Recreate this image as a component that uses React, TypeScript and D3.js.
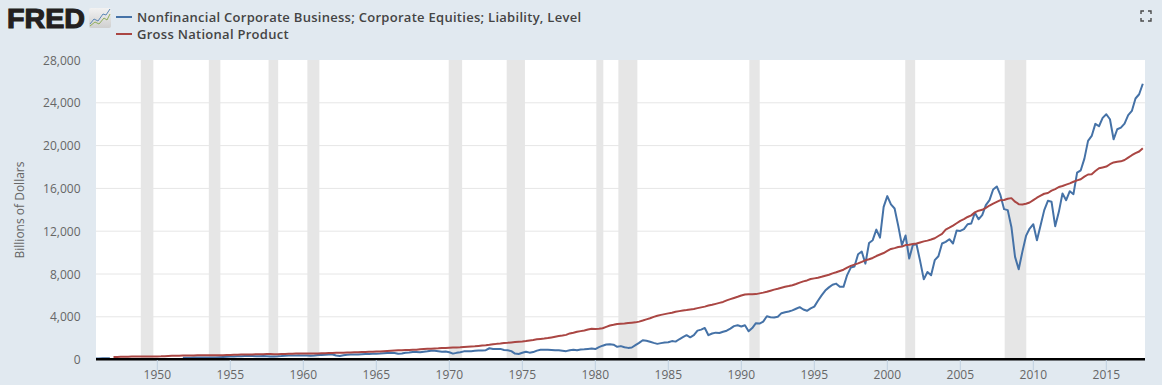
import React from "react";
import * as d3 from "d3";

const legendLabels = ["Nonfinancial Corporate Business; Corporate Equities; Liability, Level", "Gross National Product"];
const yTicks = [0, 4000, 8000, 12000, 16000, 20000, 24000, 28000];
const xTicks = [1950, 1955, 1960, 1965, 1970, 1975, 1980, 1985, 1990, 1995, 2000, 2005, 2010, 2015];

const recessions: [number, number][] = [
  [1948.87, 1949.73], [1953.53, 1954.32], [1957.62, 1958.28], [1960.28, 1961.1],
  [1969.96, 1970.88], [1973.93, 1975.18], [1980.07, 1980.55], [1981.58, 1982.88],
  [1990.55, 1991.26], [2001.23, 2001.91], [2008.04, 2009.52],
];

const blueEarlyStart = 1945.75;
const blueEarly = [110, 112, 115, 118, 120];

const blueStart = 1951.75;
const blue = [
  170,
  175, 180, 185, 190, 195, 190, 185, 190, 205, 220, 240, 265,
  285, 300, 310, 315, 330, 335, 330, 320, 315, 325, 305, 285,
  295, 310, 335, 370, 380, 390, 390, 395, 375, 380, 365, 390,
  425, 435, 455, 475, 470, 380, 340, 400, 450, 470, 475, 485,
  510, 520, 535, 540, 555, 560, 590, 620,
  640, 610, 540, 580, 640, 660, 700, 710, 680, 740, 780, 830,
  820, 780, 740, 760, 690, 560, 630, 690, 770, 790, 790, 820,
  850, 860, 880, 1060, 1000, 980, 1000, 900, 870, 790, 560, 530,
  640, 740, 650, 700, 840, 920, 930, 930, 900, 870, 870, 830,
  790, 880, 920, 870, 950, 960, 1000, 1030, 980, 1160, 1300, 1410,
  1430, 1390, 1200, 1260, 1150, 1095, 1130, 1350, 1560, 1810, 1760, 1670,
  1560, 1470, 1540, 1600, 1620, 1730, 1680, 1900, 2100, 2280, 2080, 2280,
  2710, 2800, 2960, 2280, 2440, 2520, 2480, 2600, 2700, 2900, 3130, 3210,
  3100, 3210, 2650, 2950, 3400, 3370, 3550, 4050, 3960, 3930, 4000, 4340,
  4430, 4500, 4600, 4750, 4900, 4680, 4560, 4780, 4950, 5500, 6000, 6450,
  6750, 7000, 7100, 6800, 6800, 7900, 8600, 8700, 9850, 10100, 8970, 10900,
  11160, 12150, 11400, 14280, 15280, 14500, 14120, 12500, 10700, 11600, 9440, 10700,
  10780, 9200, 7500, 8190, 7880, 9290, 9660, 10850, 11000, 11250, 10850, 12060,
  12030, 12190, 12650, 12720, 13720, 13120, 13500, 14430, 14900, 15900, 16180, 15370,
  14060, 13970, 12400, 9600, 8440, 10070, 11560, 12250, 12650, 11160, 12560, 13970,
  14840, 14750, 12470, 13810, 15530, 14900, 15740, 15460, 17470, 17690, 18780, 20440,
  20900, 22030, 21810, 22590, 22930, 22460, 20590, 21530, 21680, 22060, 22840, 23240,
  24400, 24800, 25780,
];

const redStart = 1947;
const red = [
  250, 253, 259, 270, 277, 284, 292, 293, 287, 283, 284, 282,
  292, 302, 322, 336, 353, 362, 370, 376, 379, 380, 386, 403,
  408, 411, 411, 406, 406, 408, 413, 424, 440, 449, 460, 468,
  471, 477, 484, 494, 503, 507, 516, 514, 502, 507, 521, 535,
  545, 558, 561, 568, 577, 576, 579, 573, 578, 587, 598, 612,
  624, 633, 641, 646, 654, 661, 676, 684, 702, 711, 725, 730,
  753, 768, 787, 811, 838, 848, 863, 878, 888, 895, 913, 930,
  960, 987, 1004, 1021, 1047, 1062, 1085, 1092, 1105, 1120, 1140, 1145,
  1180, 1205, 1225, 1240, 1278, 1312, 1340, 1380, 1428, 1470, 1500, 1550,
  1570, 1605, 1640, 1675, 1695, 1730, 1790, 1835, 1895, 1930, 1965, 2015,
  2075, 2140, 2205, 2245, 2310, 2445, 2510, 2595, 2660, 2725, 2810, 2875,
  2870, 2890, 2935, 3060, 3190, 3250, 3330, 3360, 3380, 3420, 3450, 3480,
  3550, 3650, 3760, 3860, 3990, 4100, 4180, 4250, 4320, 4385, 4470, 4530,
  4590, 4630, 4690, 4730, 4810, 4880, 4950, 5050, 5120, 5210, 5300, 5390,
  5530, 5650, 5760, 5870, 5990, 6080, 6100, 6110, 6120, 6190, 6260, 6340,
  6440, 6540, 6620, 6720, 6800, 6870, 6950, 7060, 7190, 7310, 7400, 7530,
  7590, 7650, 7740, 7840, 7930, 8060, 8160, 8280, 8400, 8600, 8760, 8880,
  8990, 9130, 9280, 9380, 9500, 9680, 9820, 9960, 10150, 10340, 10420, 10520,
  10560, 10700, 10730, 10800, 10850, 10950, 11050, 11120, 11220, 11340, 11550, 11750,
  12150, 12330, 12520, 12740, 12970, 13130, 13330, 13480, 13760, 13920, 14000, 14180,
  14400, 14580, 14740, 14900, 14920, 15030, 15090, 14760, 14530, 14500, 14560, 14680,
  14900, 15130, 15320, 15500, 15570, 15790, 15930, 16130, 16220, 16350, 16470, 16620,
  16750, 16860, 17100, 17300, 17330, 17620, 17880, 17960, 18040, 18260, 18430, 18490,
  18530, 18650, 18880, 19100, 19290, 19450, 19760,
];

const W = 1162, H = 385;
const L = 96, R = 1145, T = 60, B = 359.6;
const x = d3.scaleLinear().domain([1950 + (L - 157.3) / 14.6, 1950 + (R - 157.3) / 14.6]).range([L, R]);
const y = d3.scaleLinear().domain([0, 28000]).range([B, T]);
const quarterly = (start: number, vals: number[]) => vals.map((v, i) => [start + i / 4, v] as [number, number]);
const line = d3.line<[number, number]>().x((d) => x(d[0])).y((d) => y(d[1]));
const font = "'Open Sans', sans-serif";
const fmt = d3.format(",");
const BLUE = "#4572a7", RED = "#aa4643";

export default function App() {
  return (
    <svg width={W} height={H} style={{ position: "absolute", left: 0, top: 0, background: "#e1e9f0" }} fontFamily={font}>
      <defs>
        <clipPath id="plot"><rect x={L} y={T} width={R - L} height={B - T + 1} /></clipPath>
        <linearGradient id="ico" x1="0" y1="0" x2="0" y2="1">
          <stop offset="0" stopColor="#f2f2f2" /><stop offset="1" stopColor="#cfcfcf" />
        </linearGradient>
      </defs>
      <text x={7} y={27.5} fontFamily="'Liberation Sans', sans-serif" fontWeight={700} fontSize={27} fill="#231f20" stroke="#231f20" strokeWidth={1.1} textLength={78} lengthAdjust="spacingAndGlyphs">FRED</text>
      <rect x={89} y={8} width={22} height={20} rx={2} fill="url(#ico)" />
      <path d="M90 24 L94 19 L98 21 L103 14 L106 15 L110 9" fill="none" stroke="#5b87b5" strokeWidth={1} />
      <path d="M90 26 L95 22 L99 24 L104 18 L107 20 L110 14" fill="none" stroke="#8fae5a" strokeWidth={1} />

      {legendLabels.map((t, i) => (
        <g key={t}>
          <line x1={116} x2={132} y1={17 + i * 17} y2={17 + i * 17} stroke={i ? RED : BLUE} strokeWidth={2} />
          <text x={137} y={21.5 + i * 17} fontSize={13} fontWeight={600} fill="#444" letterSpacing={0.28}>{t}</text>
        </g>
      ))}

      <g stroke="#4a4a4a" strokeWidth={1.4} fill="none">
        <path d="M1141 14 V11 H1144 M1148 11 H1151 V14 M1151 18 V21 H1148 M1144 21 H1141 V18" />
      </g>

      <rect x={L} y={T} width={R - L} height={B - T} fill="#fff" />
      {recessions.map(([a, b]) => (
        <rect key={a} x={x(a)} y={T} width={x(b) - x(a)} height={B - T} fill="#e6e6e6" />
      ))}
      {yTicks.map((t) => (
        <g key={t}>
          {t > 0 && t < 28000 && <line x1={L} x2={R} y1={y(t)} y2={y(t)} stroke="#e6e6e6" strokeWidth={1} />}
          <text x={80.5} y={y(t) + 4.5} textAnchor="end" fontSize={12} fill="#666">{fmt(t)}</text>
        </g>
      ))}
      <g clipPath="url(#plot)" fill="none" strokeWidth={2} strokeLinejoin="round">
        <path d={line(quarterly(blueEarlyStart, blueEarly)) ?? ""} stroke={BLUE} />
        <path d={line(quarterly(blueStart, blue)) ?? ""} stroke={BLUE} />
        <path d={line(quarterly(redStart, red)) ?? ""} stroke={RED} />
      </g>
      <line x1={L} x2={R} y1={359.3} y2={359.3} stroke="#000" strokeWidth={2.4} />
      {xTicks.map((t) => (
        <g key={t}>
          <line x1={x(t)} x2={x(t)} y1={360} y2={370} stroke="#c0d0e0" strokeWidth={1} />
          <text x={x(t)} y={379} textAnchor="middle" fontSize={12} fill="#666">{t}</text>
        </g>
      ))}
      <text transform="translate(23.5,210) rotate(-90)" textAnchor="middle" fontSize={12} fill="#666">Billions of Dollars</text>
    </svg>
  );
}
